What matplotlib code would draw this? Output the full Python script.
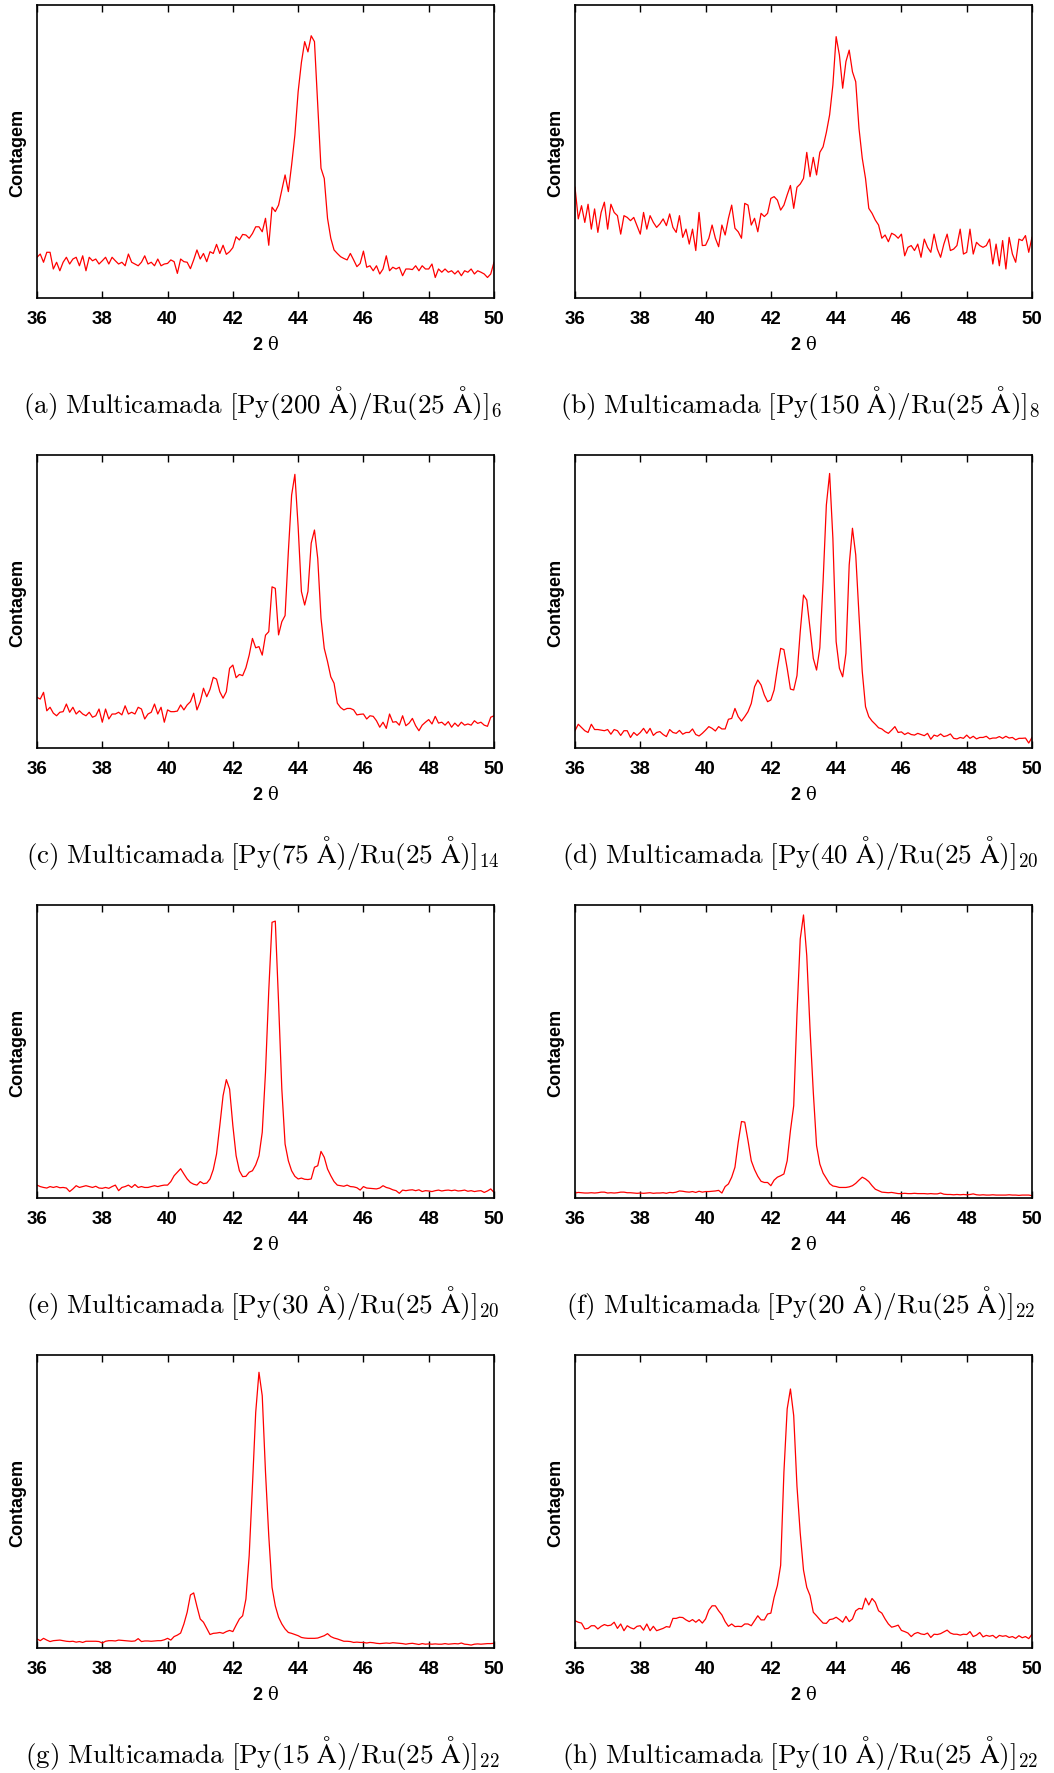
import numpy as np
import matplotlib
matplotlib.use("Agg")
import matplotlib.pyplot as plt

plt.rcParams['font.family'] = ['Liberation Sans', 'DejaVu Sans']

# ---------------- data (2-theta scan, arbitrary count units) ----------------
two_theta = np.round(np.arange(36.0, 50.05, 0.1), 1)
xticks = [36, 38, 40, 42, 44, 46, 48, 50]

letters = ['a', 'b', 'c', 'd', 'e', 'f', 'g', 'h']
py_thickness = [200, 150, 75, 40, 30, 20, 15, 10]
ru_thickness = 25
repetitions = [6, 8, 14, 20, 20, 22, 22, 22]

y_a = [
    13.9, 15.0, 12.2, 15.6, 15.6, 9.9, 12.2, 9.3, 12.2, 13.9,
    11.6, 13.3, 13.9, 11.0, 14.4, 9.3, 13.9, 12.7, 13.3, 11.6,
    12.7, 13.9, 11.6, 13.9, 12.7, 11.6, 12.2, 11.0, 15.0, 12.2,
    11.6, 11.0, 12.2, 14.4, 11.6, 12.2, 11.0, 13.3, 11.0, 11.6,
    11.8, 13.0, 12.4, 8.4, 13.3, 12.4, 12.2, 10.0, 13.0, 16.4,
    13.3, 15.2, 12.4, 15.8, 15.2, 18.3, 15.2, 18.0, 14.9, 15.8,
    17.2, 20.9, 19.8, 21.7, 21.5, 20.4, 22.0, 24.3, 24.3, 22.6,
    27.2, 18.0, 31.0, 29.5, 31.7, 36.9, 42.0, 36.3, 45.4, 55.6,
    70.4, 80.4, 87.5, 84.0, 89.5, 87.5, 65.9, 44.3, 40.8, 27.2,
    20.4, 16.4, 15.2, 14.1, 13.5, 13.0, 15.2, 13.0, 10.7, 11.8,
    16.0, 10.5, 11.0, 9.3, 11.0, 8.2, 9.9, 14.4, 9.3, 10.5,
    9.9, 10.5, 7.6, 9.9, 9.9, 9.7, 11.0, 9.3, 11.0, 9.9,
    9.9, 11.6, 7.0, 9.9, 8.8, 9.9, 8.8, 9.3, 8.2, 9.3,
    7.6, 9.3, 8.8, 9.9, 8.2, 9.3, 8.8, 8.2, 7.0, 8.2,
    12.2]

y_b = [
    37.8, 27.0, 31.5, 25.8, 32.0, 23.5, 30.4, 22.4, 29.2, 32.7,
    23.5, 32.0, 29.2, 28.1, 21.8, 28.1, 27.5, 26.4, 27.5, 24.7,
    21.8, 29.2, 23.5, 28.1, 25.8, 24.1, 25.3, 27.0, 24.7, 28.7,
    24.1, 22.4, 28.1, 20.7, 23.5, 18.4, 23.5, 16.2, 29.2, 17.9,
    18.0, 20.4, 24.9, 20.4, 17.5, 24.9, 21.5, 27.2, 31.7, 23.8,
    22.6, 20.4, 32.3, 31.7, 24.9, 27.2, 22.6, 28.9, 27.8, 28.9,
    34.0, 34.6, 33.4, 30.0, 31.7, 35.2, 38.4, 30.6, 37.8, 38.9,
    40.8, 49.7, 41.4, 48.0, 42.0, 49.7, 51.6, 56.5, 62.5, 72.7,
    89.2, 82.9, 71.6, 80.7, 84.6, 77.2, 73.8, 57.9, 47.7, 40.8,
    30.6, 28.9, 26.6, 24.9, 20.4, 21.5, 19.2, 22.1, 21.5, 20.4,
    21.8, 14.4, 17.3, 17.9, 16.2, 18.4, 13.9, 20.1, 17.3, 15.6,
    21.8, 16.7, 13.9, 18.4, 21.8, 16.2, 16.7, 17.9, 23.5, 15.0,
    15.6, 23.5, 15.0, 19.0, 17.9, 17.3, 17.9, 20.1, 11.6, 18.4,
    11.0, 19.6, 9.9, 20.7, 15.0, 12.2, 20.1, 19.6, 21.3, 15.6,
    20.7]

y_c = [
    17.3, 16.7, 19.0, 12.7, 13.9, 11.9, 11.0, 12.2, 12.4, 15.0,
    12.2, 13.9, 11.6, 12.7, 11.6, 11.0, 12.2, 10.5, 11.0, 13.3,
    8.8, 13.3, 9.9, 11.6, 11.6, 12.2, 11.3, 14.4, 11.6, 12.2,
    11.6, 13.9, 13.3, 9.9, 11.6, 12.2, 15.0, 11.6, 13.9, 8.8,
    13.0, 12.4, 12.4, 12.6, 14.7, 13.0, 14.7, 15.8, 18.7, 13.0,
    15.8, 20.4, 17.5, 20.0, 24.1, 23.5, 19.2, 17.0, 19.2, 27.2,
    28.3, 24.0, 25.1, 24.7, 27.4, 31.7, 37.4, 34.2, 34.6, 31.7,
    38.5, 39.7, 55.0, 54.5, 38.6, 43.1, 45.2, 67.0, 86.3, 93.4,
    75.5, 53.4, 48.8, 53.4, 69.9, 74.4, 64.7, 44.3, 34.0, 29.5,
    24.3, 22.1, 15.3, 13.8, 13.0, 13.5, 13.5, 13.0, 11.3, 11.5,
    11.6, 9.9, 11.0, 10.8, 9.3, 7.1, 8.8, 6.7, 11.6, 8.8,
    9.0, 7.8, 11.0, 7.6, 8.5, 10.1, 7.6, 5.9, 7.8, 8.8,
    9.7, 8.2, 10.8, 8.5, 8.8, 7.8, 9.0, 7.1, 8.5, 7.4,
    8.8, 7.8, 8.2, 7.8, 9.3, 8.4, 8.8, 7.8, 7.4, 10.5,
    11.0]

y_d = [
    5.9, 8.1, 7.0, 5.9, 5.3, 8.1, 6.3, 6.3, 6.1, 5.9,
    6.3, 4.7, 6.3, 5.9, 4.3, 5.9, 5.9, 3.6, 5.3, 4.3,
    5.3, 6.7, 5.0, 6.7, 4.3, 5.3, 5.6, 4.6, 3.9, 6.3,
    5.3, 5.0, 6.0, 4.7, 5.3, 5.3, 6.5, 4.6, 4.1, 5.0,
    6.1, 7.3, 6.7, 5.8, 7.3, 6.5, 6.5, 9.8, 10.1, 13.5,
    10.7, 9.2, 10.7, 12.4, 15.2, 20.9, 23.2, 21.5, 18.1, 15.8,
    16.4, 19.8, 27.2, 34.0, 33.6, 27.2, 20.1, 19.8, 24.7, 39.7,
    52.2, 50.5, 40.8, 30.6, 26.6, 34.2, 56.8, 82.9, 93.7, 71.6,
    36.3, 27.2, 24.3, 32.3, 62.5, 75.0, 65.9, 45.4, 26.1, 14.1,
    10.7, 9.2, 8.1, 6.9, 6.5, 5.6, 5.0, 6.1, 7.3, 5.3,
    5.5, 4.6, 5.2, 4.6, 4.4, 5.0, 4.6, 4.2, 5.0, 3.0,
    4.4, 4.0, 4.8, 3.9, 4.2, 4.8, 3.3, 3.1, 3.6, 3.3,
    4.4, 3.3, 4.0, 3.1, 3.6, 3.6, 4.0, 3.1, 3.4, 3.4,
    3.9, 3.3, 4.0, 3.4, 3.6, 2.8, 3.3, 3.3, 3.4, 1.7,
    3.6]

y_e = [
    4.4, 3.9, 3.6, 3.4, 3.9, 3.6, 3.9, 3.5, 3.6, 3.4,
    2.2, 3.1, 4.2, 3.6, 3.9, 4.2, 3.9, 3.6, 4.0, 3.4,
    3.3, 3.6, 3.3, 3.9, 4.4, 2.5, 3.6, 3.9, 4.4, 3.6,
    4.6, 3.6, 3.9, 3.6, 3.6, 3.9, 4.2, 3.9, 4.2, 4.4,
    4.4, 5.6, 7.6, 8.8, 10.0, 8.2, 6.5, 5.3, 4.7, 4.4,
    5.6, 4.9, 5.1, 6.5, 9.7, 15.0, 24.7, 34.9, 40.4, 37.2,
    24.7, 14.4, 9.3, 7.3, 7.4, 8.8, 9.3, 11.3, 14.4, 22.4,
    42.9, 70.8, 94.1, 94.5, 66.8, 37.2, 18.4, 12.7, 9.3, 7.4,
    6.5, 6.8, 6.4, 6.3, 6.5, 10.5, 11.0, 15.9, 13.9, 9.9,
    7.6, 5.6, 4.4, 4.2, 4.0, 4.4, 3.9, 3.8, 3.5, 2.7,
    3.9, 3.4, 3.3, 3.2, 3.1, 3.4, 4.2, 3.6, 3.3, 2.8,
    2.5, 1.6, 2.7, 2.5, 2.7, 2.8, 2.5, 2.8, 2.2, 2.5,
    2.4, 2.2, 2.5, 2.7, 2.4, 2.6, 2.7, 2.5, 2.7, 2.4,
    2.5, 2.7, 2.3, 2.5, 2.2, 2.4, 2.5, 1.9, 2.4, 3.1,
    1.9]

y_f = [
    1.7, 1.9, 1.8, 1.7, 1.7, 1.8, 1.7, 1.8, 2.0, 2.0,
    1.7, 1.8, 1.7, 1.8, 2.0, 2.0, 1.8, 1.8, 1.7, 1.6,
    1.7, 1.6, 1.7, 1.8, 1.6, 1.7, 1.7, 1.8, 1.6, 1.9,
    1.8, 2.0, 2.4, 2.3, 2.1, 2.0, 2.2, 1.9, 2.3, 2.0,
    2.2, 2.2, 2.3, 2.4, 2.6, 1.7, 3.9, 4.8, 7.1, 10.5,
    19.0, 26.1, 25.9, 19.6, 12.7, 9.7, 7.4, 5.7, 5.3, 5.3,
    4.2, 6.1, 7.1, 7.6, 8.2, 12.7, 23.0, 31.5, 62.8, 88.4,
    96.6, 82.7, 57.7, 36.1, 17.9, 11.6, 8.5, 6.7, 4.9, 4.1,
    3.9, 3.6, 3.6, 3.6, 3.8, 4.2, 5.0, 6.1, 7.1, 6.5,
    5.6, 4.2, 3.0, 2.5, 2.0, 1.9, 1.8, 1.9, 1.7, 1.5,
    1.5, 1.6, 1.5, 1.5, 1.6, 1.5, 1.5, 1.5, 1.4, 1.5,
    1.4, 1.4, 1.7, 1.3, 1.2, 1.2, 1.1, 1.2, 1.1, 1.2,
    1.1, 1.2, 1.4, 1.1, 1.0, 1.1, 1.0, 1.0, 1.1, 1.0,
    1.0, 1.0, 1.0, 1.1, 1.0, 1.0, 0.9, 1.0, 1.0, 1.0,
    0.8]

y_g = [
    3.1, 2.5, 3.3, 2.7, 2.2, 2.5, 2.6, 2.7, 2.5, 2.3,
    2.2, 2.3, 2.0, 2.2, 1.9, 2.3, 2.3, 2.3, 2.3, 2.2,
    1.7, 2.3, 2.5, 2.5, 2.4, 2.7, 2.6, 2.5, 2.4, 2.3,
    2.4, 3.2, 2.2, 2.4, 2.4, 2.3, 2.4, 2.5, 2.5, 2.8,
    3.3, 2.7, 3.9, 4.4, 5.1, 8.2, 12.2, 18.1, 18.8, 14.2,
    9.9, 8.8, 6.7, 4.6, 5.0, 5.1, 5.3, 5.0, 5.6, 6.0,
    5.6, 7.8, 9.9, 11.0, 16.7, 31.5, 55.4, 80.4, 94.1, 86.1,
    60.0, 38.3, 20.7, 14.4, 10.5, 8.2, 6.5, 5.3, 5.0, 4.6,
    4.2, 3.6, 3.4, 3.3, 3.3, 3.3, 3.4, 3.8, 4.2, 4.9,
    3.9, 3.4, 3.1, 2.7, 2.3, 2.3, 2.2, 1.9, 2.0, 1.9,
    1.9, 1.7, 1.9, 1.8, 1.6, 1.5, 1.6, 1.7, 1.6, 1.8,
    1.7, 1.6, 1.5, 1.3, 1.5, 1.6, 1.4, 1.2, 1.5, 1.3,
    1.4, 1.3, 1.4, 1.3, 1.3, 1.5, 1.3, 1.4, 1.5, 1.4,
    1.7, 1.3, 1.2, 1.0, 1.3, 1.4, 1.3, 1.4, 1.5, 1.5,
    1.6]

y_h = [
    9.3, 8.8, 8.5, 6.5, 6.7, 7.6, 7.6, 6.5, 7.4, 8.0,
    7.6, 7.8, 8.8, 6.7, 8.2, 5.9, 7.6, 6.9, 6.5, 7.4,
    7.6, 6.1, 8.2, 5.9, 7.4, 5.9, 6.3, 6.7, 7.3, 7.1,
    10.1, 10.1, 10.5, 10.4, 9.6, 9.0, 9.7, 8.8, 9.7, 8.5,
    9.9, 12.9, 14.4, 14.4, 12.7, 11.3, 9.0, 7.4, 8.2, 7.3,
    7.4, 7.3, 8.2, 8.2, 7.6, 9.3, 11.0, 9.6, 9.6, 11.6,
    11.9, 17.3, 21.3, 28.2, 60.0, 81.6, 88.4, 79.3, 55.2, 39.2,
    26.6, 20.7, 17.9, 12.2, 11.0, 9.7, 8.5, 8.4, 9.7, 9.9,
    10.5, 9.7, 8.8, 10.8, 9.0, 9.9, 12.7, 13.5, 13.3, 17.0,
    14.7, 16.9, 15.6, 12.7, 11.9, 9.9, 8.2, 7.1, 7.4, 7.8,
    6.0, 5.6, 5.1, 3.9, 4.9, 5.3, 4.8, 4.6, 5.1, 3.6,
    4.7, 4.6, 4.9, 5.5, 6.1, 5.1, 4.7, 4.7, 4.4, 4.7,
    4.6, 5.6, 3.9, 4.4, 5.3, 3.8, 4.3, 4.0, 4.3, 3.4,
    4.3, 4.0, 4.2, 3.6, 3.9, 3.3, 4.2, 3.5, 3.9, 3.2,
    4.7]

series = [y_a, y_b, y_c, y_d, y_e, y_f, y_g, y_h]

# ---------------- layout ----------------
W, H, DPI = 1054, 1774, 100
fig = plt.figure(figsize=(W / DPI, H / DPI), dpi=DPI)

col_left_px = [37, 575]
row_top_px = [6, 456, 906, 1356]
ax_w_px, ax_h_px = 457, 293

for i, ys in enumerate(series):
    r, c = divmod(i, 2)
    left, top = col_left_px[c], row_top_px[r]
    ax = fig.add_axes([left / W, 1 - (top + ax_h_px) / H, ax_w_px / W, ax_h_px / H])
    ax.plot(two_theta, ys, color='#ff0000', lw=0.9)
    ax.set_xlim(36, 50)
    ax.set_ylim(0, 100)
    ax.set_xticks(xticks)
    ax.set_yticks([])
    ax.tick_params(axis='x', direction='in', top=True, length=5, width=1.0,
                   labelsize=13.5, pad=9)
    for lab in ax.get_xticklabels():
        lab.set_fontweight('bold')
    for sp in ax.spines.values():
        sp.set_linewidth(1.2)

    cx = (left + ax_w_px / 2) / W
    fig.text(cx, 1 - (top + ax_h_px + 46) / H, r'2 $\mathrm{\theta}$',
             ha='center', va='center', fontsize=13, fontweight='bold',
             math_fontfamily='dejavuserif')
    fig.text((left - 19) / W, 1 - (top + ax_h_px / 2) / H, 'Contagem',
             rotation=90, ha='center', va='center', fontsize=13, fontweight='bold')
    caption = (r'$\mathrm{(%s)\ Multicamada\ [Py(%d\ Å)/Ru(%d\ Å)]_{%d}}$'
               % (letters[i], py_thickness[i], ru_thickness, repetitions[i]))
    fig.text(cx - 3 / W, 1 - (top + ax_h_px + 104) / H, caption, ha='center', va='center',
             fontsize=19.5, math_fontfamily='cm')

fig.savefig('out.png', dpi=DPI)
